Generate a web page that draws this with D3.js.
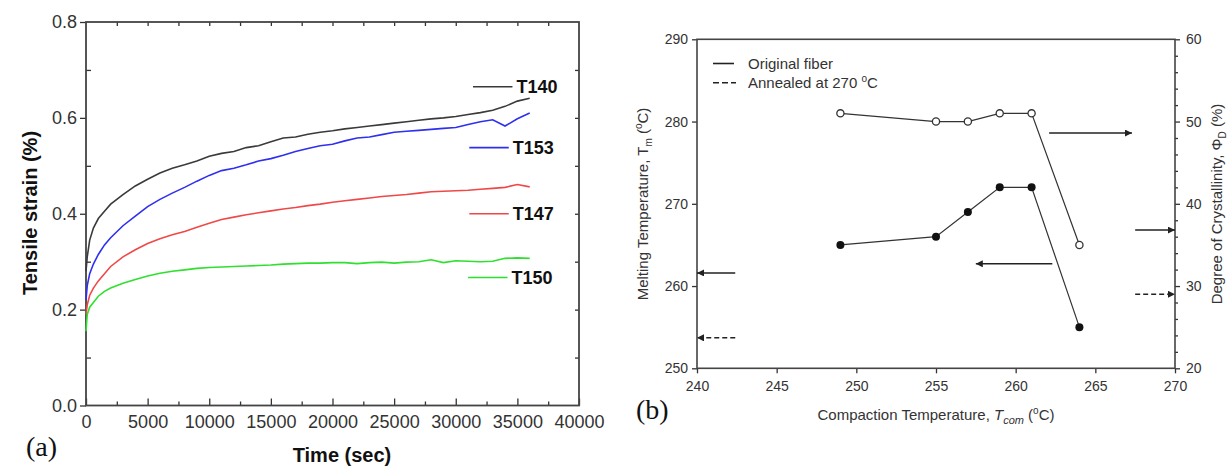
<!DOCTYPE html>
<html>
<head>
<meta charset="utf-8">
<script src="https://cdn.jsdelivr.net/npm/d3@7"></script>
<style>
  body { margin: 0; background: #fff; }
  svg { display: block; }
  text { font-family: "Liberation Sans", Arial, sans-serif; }
</style>
</head>
<body>
<div id="chart"></div>
<script>
// ---- panel (a) data: tensile strain vs time ----
var timeSec = [0, 100, 300, 600, 1000, 1500, 2000, 3000, 4000, 5000, 6000, 7000, 8000, 9000, 10000,
  11000, 12000, 13000, 14000, 15000, 16000, 17000, 18000, 19000, 20000, 21000, 22000, 23000, 24000,
  25000, 26000, 27000, 28000, 29000, 30000, 31000, 32000, 33000, 34000, 35000, 36000];
var strainT140 = [0.28, 0.31, 0.345, 0.37, 0.39, 0.405, 0.42, 0.44, 0.458, 0.472, 0.485, 0.495, 0.502, 0.51, 0.52,
  0.526, 0.53, 0.538, 0.542, 0.55, 0.558, 0.56, 0.566, 0.57, 0.573, 0.577, 0.58, 0.583, 0.586,
  0.589, 0.592, 0.595, 0.598, 0.6, 0.603, 0.607, 0.611, 0.616, 0.624, 0.635, 0.641];
var strainT153 = [0.22, 0.25, 0.275, 0.295, 0.315, 0.335, 0.35, 0.375, 0.395, 0.415, 0.43, 0.443, 0.455, 0.468, 0.48,
  0.49, 0.495, 0.502, 0.51, 0.515, 0.522, 0.53, 0.536, 0.542, 0.545, 0.552, 0.558, 0.56, 0.565,
  0.57, 0.572, 0.574, 0.576, 0.578, 0.58, 0.586, 0.592, 0.596, 0.583, 0.598, 0.61];
var strainT147 = [0.19, 0.21, 0.23, 0.245, 0.26, 0.275, 0.29, 0.31, 0.325, 0.338, 0.348, 0.356, 0.363, 0.372, 0.38,
  0.388, 0.393, 0.398, 0.402, 0.406, 0.41, 0.413, 0.417, 0.42, 0.424, 0.427, 0.43, 0.433, 0.436,
  0.438, 0.44, 0.443, 0.446, 0.447, 0.448, 0.449, 0.451, 0.453, 0.455, 0.461, 0.456];
var strainT150 = [0.155, 0.19, 0.205, 0.215, 0.228, 0.238, 0.245, 0.255, 0.263, 0.27, 0.276, 0.28, 0.283, 0.286, 0.288,
  0.289, 0.29, 0.291, 0.292, 0.293, 0.295, 0.296, 0.297, 0.297, 0.298, 0.298, 0.296, 0.298, 0.299,
  0.297, 0.299, 0.3, 0.304, 0.298, 0.302, 0.301, 0.3, 0.301, 0.307, 0.308, 0.307];
var seriesNames = ["T140", "T153", "T147", "T150"];
var seriesColors = ["#3a3a3a", "#2f2ff0", "#f04848", "#2fe02f"];
var timeTicks = [0, 5000, 10000, 15000, 20000, 25000, 30000, 35000, 40000];
var strainTicks = [0.0, 0.2, 0.4, 0.6, 0.8];

// ---- panel (b) data: melting temperature / crystallinity vs compaction temperature ----
var compTemp = [249, 255, 257, 259, 261, 264];
var meltTemp = [265, 266, 269, 272, 272, 255];
var crystallinity = [51, 50, 50, 51, 51, 35];
var compTicks = [240, 245, 250, 255, 260, 265, 270];
var meltTicks = [250, 260, 270, 280, 290];
var crystTicks = [20, 30, 40, 50, 60];
// reference values for the fibres (arrows at the axes)
var refMelt = [261.6, 253.7];     // original, annealed
var refCryst = [36.8, 29.0];      // original, annealed

var W = 1231, H = 467;
var svg = d3.select("#chart").append("svg").attr("width", W).attr("height", H);
var defs = svg.append("defs");
defs.append("marker").attr("id", "ah").attr("viewBox", "0 0 10 10")
  .attr("refX", 10).attr("refY", 5).attr("markerWidth", 9).attr("markerHeight", 7)
  .attr("markerUnits", "userSpaceOnUse").attr("orient", "auto")
  .append("path").attr("d", "M0,0 L10,5 L0,10 Z").attr("fill", "#222");

function styleAxis(g, color, size) {
  g.select(".domain").remove();
  g.selectAll("line").attr("stroke", color).attr("stroke-width", 1.3);
  g.selectAll("text").attr("fill", color).attr("font-size", size + "px");
}

// ================= panel (a) =================
var xA = d3.scaleLinear().domain([0, 40000]).range([86, 579]);
var yA = d3.scaleLinear().domain([0, 0.8]).range([405.5, 22]);
var axA = "#333";

var gA = svg.append("g");
gA.append("g").attr("transform", "translate(0,405.5)")
  .call(d3.axisBottom(xA).tickValues(timeTicks).tickSize(-7).tickPadding(10).tickFormat(d3.format("d")))
  .call(styleAxis, axA, 18);
gA.append("g").attr("transform", "translate(0,405.5)")
  .call(d3.axisBottom(xA).tickValues(d3.range(2500, 40000, 5000)).tickSize(-4).tickFormat(""))
  .call(styleAxis, axA, 18);
gA.append("g").attr("transform", "translate(0,22)")
  .call(d3.axisTop(xA).tickValues(d3.range(2500, 40000, 2500)).tickSize(-4).tickFormat(""))
  .call(styleAxis, axA, 18);
gA.append("g").attr("transform", "translate(86,0)")
  .call(d3.axisLeft(yA).tickValues(strainTicks).tickSize(6).tickPadding(3).tickFormat(d3.format(".1f")))
  .call(styleAxis, axA, 18);
gA.append("g").attr("transform", "translate(86,0)")
  .call(d3.axisLeft(yA).tickValues([0.1, 0.3, 0.5, 0.7]).tickSize(-5).tickFormat(""))
  .call(styleAxis, axA, 18);
gA.append("g").attr("transform", "translate(579,0)")
  .call(d3.axisRight(yA).tickValues([0.1, 0.2, 0.3, 0.4, 0.5, 0.6, 0.7]).tickSize(-4).tickFormat(""))
  .call(styleAxis, axA, 18);
gA.append("rect").attr("x", 86).attr("y", 22).attr("width", 579 - 86).attr("height", 405.5 - 22)
  .attr("fill", "none").attr("stroke", "#444").attr("stroke-width", 1.8);

var strainSeries = [strainT140, strainT153, strainT147, strainT150];
var lineA = d3.line().x(function (d, i) { return xA(timeSec[i]); }).y(function (d) { return yA(d); });
strainSeries.forEach(function (s, k) {
  gA.append("path").datum(s).attr("d", lineA)
    .attr("fill", "none").attr("stroke", seriesColors[k]).attr("stroke-width", 1.6);
});

// labels next to curve ends
var labelYA = [0.665, 0.538, 0.4, 0.267];
var labelXA = [[31400, 34600], [31100, 34300], [31100, 34300], [31000, 34200]];
seriesNames.forEach(function (n, k) {
  var y = yA(labelYA[k]);
  gA.append("line").attr("x1", xA(labelXA[k][0])).attr("x2", xA(labelXA[k][1]))
    .attr("y1", y).attr("y2", y).attr("stroke", seriesColors[k]).attr("stroke-width", 1.6);
  gA.append("text").attr("x", xA(labelXA[k][1]) + 4).attr("y", y + 6.5)
    .attr("font-size", "18px").attr("font-weight", "bold").attr("fill", "#111").text(n);
});

gA.append("text").attr("transform", "translate(37,213) rotate(-90)").attr("text-anchor", "middle")
  .attr("font-size", "20px").attr("font-weight", "bold").attr("fill", "#111").text("Tensile strain (%)");
gA.append("text").attr("x", 342).attr("y", 462).attr("text-anchor", "middle")
  .attr("font-size", "20px").attr("font-weight", "bold").attr("fill", "#111").text("Time (sec)");
gA.append("text").attr("x", 26).attr("y", 456).attr("font-family", "Liberation Serif, Times New Roman, serif")
  .style("font-family", "'Liberation Serif', serif").attr("font-size", "28px").attr("fill", "#111").text("(a)");

// ================= panel (b) =================
var xB = d3.scaleLinear().domain([240, 270]).range([697, 1175]);
var yL = d3.scaleLinear().domain([250, 290]).range([368.3, 39.3]);
var yR = d3.scaleLinear().domain([20, 60]).range([368.3, 39.3]);
var axB = "#333";

var gB = svg.append("g");
gB.append("g").attr("transform", "translate(0,368.3)")
  .call(d3.axisBottom(xB).tickValues(compTicks).tickSize(5).tickPadding(8).tickFormat(d3.format("d")))
  .call(styleAxis, axB, 14);
gB.append("g").attr("transform", "translate(697,0)")
  .call(d3.axisLeft(yL).tickValues(meltTicks).tickSize(5).tickPadding(4).tickFormat(d3.format("d")))
  .call(styleAxis, axB, 14);
gB.append("g").attr("transform", "translate(1175,0)")
  .call(d3.axisRight(yR).tickValues(crystTicks).tickSize(5).tickPadding(6).tickFormat(d3.format("d")))
  .call(styleAxis, axB, 14);
gB.append("g").attr("transform", "translate(1175,0)")
  .call(d3.axisRight(yR).tickValues(d3.range(22, 60, 2).filter(function (v) { return v % 10 !== 0; }))
    .tickSize(3).tickFormat(""))
  .call(styleAxis, axB, 14);
gB.append("rect").attr("x", 697).attr("y", 39.3).attr("width", 1175 - 697).attr("height", 368.3 - 39.3)
  .attr("fill", "none").attr("stroke", "#444").attr("stroke-width", 1.6);

// crystallinity (open circles, right axis)
var lineCr = d3.line().x(function (d, i) { return xB(compTemp[i]); }).y(function (d) { return yR(d); });
gB.append("path").datum(crystallinity).attr("d", lineCr).attr("fill", "none")
  .attr("stroke", "#333").attr("stroke-width", 1.2);
gB.selectAll(".oc").data(crystallinity).enter().append("circle")
  .attr("cx", function (d, i) { return xB(compTemp[i]); }).attr("cy", function (d) { return yR(d); })
  .attr("r", 3.6).attr("fill", "#fff").attr("stroke", "#333").attr("stroke-width", 1.3);

// melting temperature (filled circles, left axis)
var lineTm = d3.line().x(function (d, i) { return xB(compTemp[i]); }).y(function (d) { return yL(d); });
gB.append("path").datum(meltTemp).attr("d", lineTm).attr("fill", "none")
  .attr("stroke", "#333").attr("stroke-width", 1.2);
gB.selectAll(".fc").data(meltTemp).enter().append("circle")
  .attr("cx", function (d, i) { return xB(compTemp[i]); }).attr("cy", function (d) { return yL(d); })
  .attr("r", 4).attr("fill", "#111");

function arrow(x1, y1, x2, y2, dashed) {
  gB.append("line").attr("x1", x1).attr("y1", y1).attr("x2", x2).attr("y2", y2)
    .attr("stroke", "#222").attr("stroke-width", 1.5)
    .attr("stroke-dasharray", dashed ? "5,3" : null).attr("marker-end", "url(#ah)");
}
// reference arrows at the axes
arrow(xB(242.4), yL(refMelt[0]), xB(240), yL(refMelt[0]), false);
arrow(xB(242.4), yL(refMelt[1]), xB(240), yL(refMelt[1]), true);
arrow(xB(267.5), yR(refCryst[0]), xB(270), yR(refCryst[0]), false);
arrow(xB(267.5), yR(refCryst[1]), xB(270), yR(refCryst[1]), true);
// which curve belongs to which axis
arrow(xB(262.1), yR(48.6), xB(267.3), yR(48.6), false);
arrow(xB(262.3), yL(262.7), xB(257.5), yL(262.7), false);

// legend
gB.append("line").attr("x1", 713).attr("x2", 734).attr("y1", 63.5).attr("y2", 63.5)
  .attr("stroke", "#222").attr("stroke-width", 1.6);
gB.append("line").attr("x1", 713).attr("x2", 736).attr("y1", 82.7).attr("y2", 82.7)
  .attr("stroke", "#222").attr("stroke-width", 1.6).attr("stroke-dasharray", "6,3");
gB.append("text").attr("x", 748).attr("y", 68.5).attr("font-size", "15px").attr("fill", "#333").text("Original fiber");
var ann = gB.append("text").attr("x", 748).attr("y", 88).attr("font-size", "15px").attr("fill", "#333");
ann.append("tspan").text("Annealed at 270 ");
ann.append("tspan").attr("dy", -6).attr("font-size", "10px").text("o");
ann.append("tspan").attr("dy", 6).text("C");

// axis titles
var xt = gB.append("text").attr("x", 936).attr("y", 420).attr("text-anchor", "middle")
  .attr("font-size", "15px").attr("fill", "#333");
xt.append("tspan").text("Compaction Temperature, ");
xt.append("tspan").attr("font-style", "italic").text("T");
xt.append("tspan").attr("font-style", "italic").attr("font-size", "11px").attr("dy", 4).text("com");
xt.append("tspan").attr("dy", -4).text(" (");
xt.append("tspan").attr("font-size", "10px").attr("dy", -6).text("o");
xt.append("tspan").attr("dy", 6).text("C)");

var yt = gB.append("text").attr("transform", "translate(648,204) rotate(-90)").attr("text-anchor", "middle")
  .attr("font-size", "15px").attr("fill", "#333");
yt.append("tspan").text("Melting Temperature, T");
yt.append("tspan").attr("font-size", "10px").attr("dy", 4).text("m");
yt.append("tspan").attr("dy", -4).text(" (");
yt.append("tspan").attr("font-size", "10px").attr("dy", -6).text("o");
yt.append("tspan").attr("dy", 6).text("C)");

var yt2 = gB.append("text").attr("transform", "translate(1222,204) rotate(-90)").attr("text-anchor", "middle")
  .attr("font-size", "15px").attr("fill", "#333");
yt2.append("tspan").text("Degree of Crystallinity, \u03A6");
yt2.append("tspan").attr("font-size", "10px").attr("dy", 4).text("D");
yt2.append("tspan").attr("dy", -4).text(" (%)");

gB.append("text").attr("x", 636).attr("y", 419)
  .style("font-family", "'Liberation Serif', serif").attr("font-size", "28px").attr("fill", "#111").text("(b)");
</script>
</body>
</html>
